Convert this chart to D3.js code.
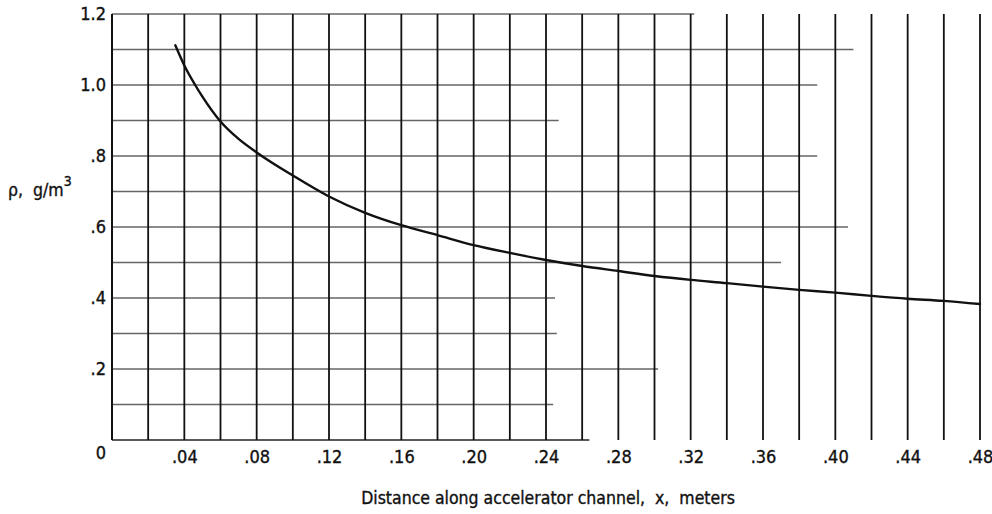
<!DOCTYPE html>
<html>
<head>
<meta charset="utf-8">
<script src="https://cdn.jsdelivr.net/npm/d3@7"></script>
<style>
  html, body { margin: 0; padding: 0; background: #fff; }
  svg { display: block; }
  text { font-family: "DejaVu Sans Condensed", "Liberation Sans Narrow", "DejaVu Sans", sans-serif; fill: #111; stroke: #111; stroke-width: 0.35px; }
</style>
</head>
<body>
<svg id="chart" width="992" height="514"></svg>
<script>
// ---- data ----
const distance = [0.035, 0.04, 0.046, 0.05, 0.06, 0.07, 0.08, 0.10, 0.12, 0.14, 0.16, 0.18, 0.20, 0.22, 0.24,
                  0.26, 0.28, 0.30, 0.32, 0.34, 0.36, 0.38, 0.40, 0.42, 0.44, 0.46, 0.48];
const density  = [1.112, 1.055, 1.0, 0.967, 0.897, 0.848, 0.81, 0.745, 0.686, 0.640, 0.605, 0.577, 0.549, 0.527, 0.507,
                  0.490, 0.476, 0.462, 0.451, 0.442, 0.432, 0.423, 0.415, 0.406, 0.398, 0.392, 0.383];
const xTickValues = [0.04, 0.08, 0.12, 0.16, 0.20, 0.24, 0.28, 0.32, 0.36, 0.40, 0.44, 0.48];
const xTickLabels = [".04", ".08", ".12", ".16", ".20", ".24", ".28", ".32", ".36", ".40", ".44", ".48"];
const yTickValues = [0.2, 0.4, 0.6, 0.8, 1.0, 1.2];
const yTickLabels = [".2", ".4", ".6", ".8", "1.0", "1.2"];
const originLabel = "0";
const xGridValues = d3.range(1, 25).map(i => +(i * 0.02).toFixed(2));
// horizontal grid rules (y value) and how far right each faded rule reaches (x value)
const hGridY    = [0.0,  0.1,  0.2,  0.3,  0.4,  0.5,  0.6,  0.7,  0.8,  0.9,  1.0,  1.1,  1.2];
const hGridEndX = [0.264, 0.244, 0.302, 0.246, 0.245, 0.37, 0.407, 0.38, 0.39, 0.247, 0.39, 0.41, 0.322];
const xTitle = "Distance along accelerator channel,  x,  meters";
const yTitle = "ρ,  g/m";
const yTitleSup = "3";

// ---- layout ----
const svg = d3.select("#chart");
const x = d3.scaleLinear().domain([0, 0.48]).range([112, 980]);
const y = d3.scaleLinear().domain([0, 1.2]).range([440, 14]);

// horizontal (fainter) grid rules
svg.append("g").selectAll("line").data(hGridY).join("line")
  .attr("x1", x(0)).attr("x2", (d, i) => x(hGridEndX[i]))
  .attr("y1", d => y(d)).attr("y2", d => y(d))
  .attr("stroke", d => d === 0 ? "#222" : "#666")
  .attr("stroke-width", d => d === 0 ? 1.6 : 1.3);

// vertical grid rules
svg.append("g").selectAll("line").data(xGridValues).join("line")
  .attr("x1", d => x(d)).attr("x2", d => x(d))
  .attr("y1", y(1.2)).attr("y2", y(0))
  .attr("stroke", "#111").attr("stroke-width", 1.8);

// left axis line
svg.append("line")
  .attr("x1", x(0)).attr("x2", x(0)).attr("y1", y(1.2)).attr("y2", y(0))
  .attr("stroke", "#111").attr("stroke-width", 2);

// x tick labels via d3 axis
const xAxis = d3.axisBottom(x).tickValues(xTickValues)
  .tickFormat((d, i) => xTickLabels[i]).tickSize(0).tickPadding(10);
const gx = svg.append("g").attr("transform", `translate(0,${y(0)})`).call(xAxis);
gx.select(".domain").remove();
gx.selectAll("text").style("font-size", "18px").attr("fill", "#111");

// y tick labels via d3 axis
const yAxis = d3.axisLeft(y).tickValues(yTickValues)
  .tickFormat((d, i) => yTickLabels[i]).tickSize(0).tickPadding(6);
const gy = svg.append("g").attr("transform", `translate(${x(0)},0)`).call(yAxis);
gy.select(".domain").remove();
gy.selectAll("text").style("font-size", "18px").attr("fill", "#111");

// origin label
svg.append("text").attr("x", x(0) - 6).attr("y", y(0) + 19)
  .attr("text-anchor", "end").style("font-size", "18px").text(originLabel);

// curve
const line = d3.line().x((d, i) => x(distance[i])).y(d => y(d)).curve(d3.curveMonotoneX);
svg.append("path").datum(density)
  .attr("d", line).attr("fill", "none")
  .attr("stroke", "#111").attr("stroke-width", 2.4).attr("stroke-linecap", "round");

// axis titles
svg.append("text").attr("x", 548).attr("y", 504).attr("text-anchor", "middle")
  .style("font-size", "17.5px").style("white-space", "pre").attr("xml:space", "preserve").text(xTitle);

const yt = svg.append("text").attr("x", 8).attr("y", 196).style("font-size", "17.5px")
  .attr("xml:space", "preserve").style("white-space", "pre");
yt.append("tspan").text(yTitle);
yt.append("tspan").attr("dy", -10).style("font-size", "14px").text(yTitleSup);
</script>
</body>
</html>
